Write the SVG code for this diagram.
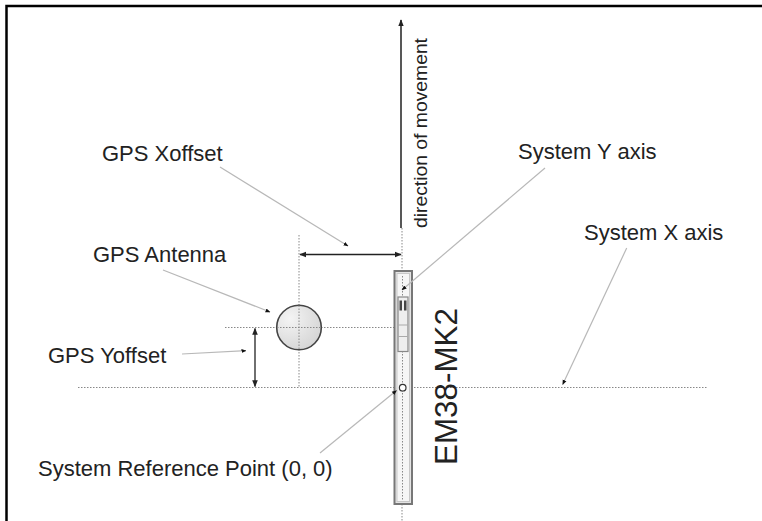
<svg xmlns="http://www.w3.org/2000/svg" width="762" height="521" viewBox="0 0 762 521">
<style>
.lbl{font-family:"Liberation Sans",Arial,sans-serif;font-size:22px;fill:#222}
.dot{stroke:#888;stroke-width:1;stroke-dasharray:1.5 1.5;fill:none}
.lead{stroke:#b8b8b8;stroke-width:1.2;fill:none}
.dim{stroke:#222;stroke-width:1.3;fill:none}
</style>
<defs>
<marker id="ah" viewBox="0 0 10 10" refX="9" refY="5" markerWidth="7" markerHeight="7" orient="auto-start-reverse" markerUnits="userSpaceOnUse">
<path d="M0,1 L10,5 L0,9 Z" fill="#222"/>
</marker>
<marker id="tip" viewBox="0 0 10 10" refX="9" refY="5" markerWidth="5" markerHeight="5" orient="auto" markerUnits="userSpaceOnUse">
<path d="M0,1 L10,5 L0,9 Z" fill="#111"/>
</marker>
<radialGradient id="g" cx="0.3" cy="0.3" r="0.8">
<stop offset="0" stop-color="#f4f4f4"/>
<stop offset="1" stop-color="#d4d4d4"/>
</radialGradient>
</defs>
<rect width="762" height="521" fill="#fff"/>
<path d="M6.5,521 V6 H762" stroke="#000" stroke-width="2.5" fill="none"/>

<g id="guides">
<line class="dot" x1="402" y1="228" x2="402" y2="521"/>
<line class="dot" x1="78" y1="387.5" x2="708" y2="387.5"/>
<line class="dot" x1="225" y1="327.5" x2="402" y2="327.5"/>
<line class="dot" x1="299" y1="235" x2="299" y2="387.5"/>
</g>

<g id="em38">
<rect x="394.5" y="271" width="17.5" height="233" fill="#e4e4e4" stroke="#777" stroke-width="2"/>
<rect x="397" y="273.5" width="12.5" height="228" fill="#f6f6f6" stroke="#c8c8c8" stroke-width="1"/>
<line class="dot" x1="402.5" y1="276" x2="402.5" y2="500"/>
<rect x="398" y="297" width="10" height="54.5" fill="#eee" stroke="#888" stroke-width="1.2"/>
<rect x="399.5" y="300.5" width="2.5" height="10" fill="#444"/>
<rect x="404" y="300.5" width="2.5" height="10" fill="#444"/>
<line x1="398" y1="325" x2="408" y2="325" stroke="#aaa" stroke-width="1"/>
<line x1="398" y1="336.5" x2="408" y2="336.5" stroke="#aaa" stroke-width="1"/>
<circle cx="402.7" cy="387.7" r="3.3" fill="#fff" stroke="#333" stroke-width="1.2"/>
<text transform="translate(457,465) rotate(-90)" style="font-family:'Liberation Sans',Arial,sans-serif;font-size:32px;fill:#222" textLength="157" lengthAdjust="spacingAndGlyphs">EM38-MK2</text>
</g>

<g id="antenna">
<circle cx="299" cy="327.5" r="22.3" fill="url(#g)" stroke="#444" stroke-width="1.6"/>
<line class="dot" x1="277" y1="327.5" x2="321" y2="327.5"/>
<line class="dot" x1="299" y1="305.5" x2="299" y2="349.5"/>
</g>

<g id="direction">
<line x1="401" y1="228" x2="401" y2="20" stroke="#111" stroke-width="1.4" marker-end="url(#ah)"/>
<text transform="translate(427,228) rotate(-90)" style="font-family:'Liberation Sans',Arial,sans-serif;font-size:18px;fill:#222" textLength="190" lengthAdjust="spacingAndGlyphs">direction of movement</text>
</g>

<g id="connectors">
<line class="dim" x1="300" y1="254.5" x2="401" y2="254.5" marker-start="url(#ah)" marker-end="url(#ah)"/>
<line class="dim" x1="255" y1="328.5" x2="255" y2="386.5" marker-start="url(#ah)" marker-end="url(#ah)"/>
<line class="lead" x1="220" y1="167" x2="348" y2="246" marker-end="url(#tip)"/>
<line class="lead" x1="163" y1="270" x2="270" y2="312" marker-end="url(#tip)"/>
<line class="lead" x1="182" y1="354" x2="246" y2="350.7" marker-end="url(#tip)"/>
<line class="lead" x1="320" y1="453" x2="396.5" y2="390.5" marker-end="url(#tip)"/>
<line class="lead" x1="545" y1="168" x2="402" y2="290" marker-end="url(#tip)"/>
<line class="lead" x1="626.7" y1="248" x2="562.7" y2="384.5" marker-end="url(#tip)"/>
</g>

<g id="label-xoffset"><text class="lbl" x="102" y="161">GPS Xoffset</text></g>
<g id="label-antenna"><text class="lbl" x="93" y="262">GPS Antenna</text></g>
<g id="label-yoffset"><text class="lbl" x="48" y="363">GPS Yoffset</text></g>
<g id="label-ref"><text class="lbl" x="38" y="476">System Reference Point (0, 0)</text></g>
<g id="label-yaxis"><text class="lbl" x="518" y="159">System Y axis</text></g>
<g id="label-xaxis"><text class="lbl" x="584" y="240">System X axis</text></g>
</svg>
